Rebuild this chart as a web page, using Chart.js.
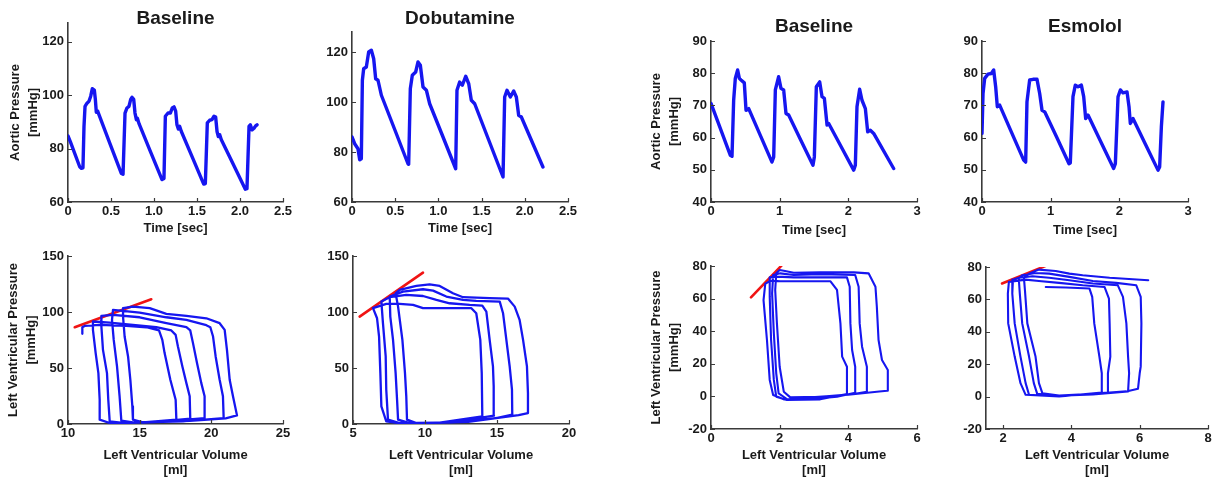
<!DOCTYPE html>
<html>
<head>
<meta charset="utf-8">
<script src="https://cdn.jsdelivr.net/npm/chart.js@4.4.1/dist/chart.umd.min.js"></script>
<style>
  html, body { margin: 0; padding: 0; background: #fff; }
  #fig { position: relative; width: 1214px; height: 481px; overflow: hidden; }
  #fig canvas { position: absolute; }
</style>
</head>
<body>
<div id="fig">
  <canvas id="p1"></canvas><canvas id="p2"></canvas><canvas id="p3"></canvas><canvas id="p4"></canvas>
  <canvas id="p5"></canvas><canvas id="p6"></canvas><canvas id="p7"></canvas><canvas id="p8"></canvas>
</div>
<script>
// ---- aortic pressure traces (time in sec, pressure in mmHg) ----
const aoTimeBase1 = [0, 0.027, 0.136, 0.155, 0.174, 0.186, 0.198, 0.221, 0.244, 0.264, 0.283, 0.306, 0.318, 0.329, 0.345, 0.36, 0.49, 0.62, 0.64,
  0.663, 0.686, 0.709, 0.729, 0.744, 0.764, 0.779, 0.795, 0.806, 0.826, 0.96, 1.093,
  1.116, 1.132, 1.163, 1.19, 1.213, 1.233, 1.252, 1.267, 1.283, 1.298, 1.318, 1.45, 1.578,
  1.597, 1.62, 1.647, 1.674, 1.698, 1.717, 1.733, 1.748, 1.764, 1.783, 1.92, 2.062,
  2.081, 2.105, 2.12, 2.14, 2.163, 2.182, 2.198];
const aoPresBase1 = [84.7, 82.6, 73.2, 72.6, 72.8, 88.3, 95.8, 97.0, 97.7, 99.6, 102.4, 101.9, 98.4, 93.6, 94.0, 92.7, 81.7, 70.7, 70.4,
  93.3, 95.2, 95.8, 98.4, 99.2, 98.4, 93.3, 90.8, 91.4, 89.3, 78.8, 68.4,
  68.8, 92.1, 93.3, 93.3, 95.2, 95.6, 94.0, 88.9, 87.3, 88.3, 86.4, 76.4, 66.7,
  66.9, 89.6, 90.6, 90.8, 92.1, 91.8, 86.4, 84.5, 85.2, 83.3, 74.2, 64.8,
  65.0, 88.3, 88.9, 87.0, 87.6, 88.5, 88.9];

const aoTimeDobu = [0, 0.031, 0.069, 0.089, 0.108, 0.120, 0.135, 0.166, 0.193, 0.224, 0.251, 0.274, 0.301, 0.340, 0.500, 0.648, 0.656,
  0.675, 0.698, 0.737, 0.764, 0.791, 0.822, 0.861, 0.899, 1.050, 1.200,
  1.215, 1.246, 1.277, 1.316, 1.351, 1.381, 1.420, 1.580, 1.748,
  1.767, 1.794, 1.833, 1.871, 1.902, 1.929, 1.960, 2.100, 2.210];
const aoPresDobu = [86.0, 83.3, 81.3, 76.9, 77.3, 108.7, 113.3, 114.0, 120.0, 120.7, 117.3, 109.3, 108.7, 102.7, 88.5, 75.3, 75.1,
  105.3, 110.7, 112.0, 116.0, 114.7, 106.0, 104.7, 99.3, 86.3, 73.3,
  104.7, 108.0, 106.7, 110.3, 107.3, 100.7, 99.3, 85.0, 70.0,
  102.0, 104.7, 102.0, 104.4, 102.0, 94.7, 94.0, 82.8, 74.0];

const aoTimeBase2 = [0, 0.282, 0.306, 0.330, 0.354, 0.388, 0.413, 0.437, 0.485, 0.510, 0.549, 0.720, 0.888,
  0.913, 0.937, 0.985, 1.019, 1.058, 1.092, 1.131, 1.310, 1.485,
  1.505, 1.534, 1.583, 1.617, 1.651, 1.690, 1.714, 1.900, 2.078,
  2.102, 2.126, 2.165, 2.199, 2.248, 2.282, 2.320, 2.369, 2.660];
const aoPresBase2 = [70.6, 54.5, 54.2, 71.6, 78.4, 81.0, 78.4, 77.9, 77.0, 68.5, 69.0, 60.6, 52.4,
  54.0, 74.8, 78.9, 75.3, 74.8, 67.5, 67.0, 59.1, 51.4,
  54.0, 75.8, 77.3, 72.7, 72.2, 63.9, 64.4, 57.0, 49.9,
  51.4, 69.6, 75.0, 71.6, 69.0, 61.8, 62.3, 61.3, 50.4];

const aoTimeEsmo = [0, 0.015, 0.039, 0.087, 0.136, 0.170, 0.199, 0.223, 0.257, 0.430, 0.607, 0.636,
  0.655, 0.694, 0.743, 0.801, 0.840, 0.874, 0.913, 1.090, 1.267, 1.286,
  1.325, 1.359, 1.398, 1.447, 1.481, 1.510, 1.544, 1.730, 1.917, 1.942,
  1.981, 2.015, 2.053, 2.112, 2.141, 2.160, 2.199, 2.380, 2.563, 2.587, 2.612, 2.636];
const aoPresEsmo = [61.3, 73.7, 78.4, 79.7, 79.9, 81.0, 75.8, 69.6, 70.1, 61.6, 53.0, 52.4,
  71.1, 77.9, 78.1, 78.1, 73.7, 68.5, 68.0, 60.0, 51.9, 52.1,
  72.7, 76.3, 75.8, 76.3, 72.7, 65.9, 67.0, 58.7, 50.4, 51.9,
  72.7, 74.8, 73.9, 74.2, 69.6, 64.4, 65.9, 57.9, 49.9, 50.9, 63.3, 71.1];

// ---- pressure-volume loops (volume in ml, pressure in mmHg) ----
const lvVolBase1 = [15.2, 18.5, 21.0,
  21.79, 21.51, 21.28, 21.09, 20.93, 20.58,
  19.65, 18.26, 16.86, 15.70, 14.53, 13.84,
  13.84, 13.95, 14.19, 14.35, 14.49, 14.53,
  15.23, 18.02, 20.86,
  20.81, 20.58, 20.30, 20.12, 19.93, 19.65,
  18.26, 16.86, 15.00, 13.14,
  13.07, 13.19, 13.42, 13.60, 13.72,
  14.53, 16.86, 19.53,
  19.53, 19.30, 19.00, 18.72, 18.53, 18.26,
  16.86, 15.00, 13.14, 12.33,
  12.33, 12.44, 12.72, 12.81, 12.91,
  13.84, 16.16, 18.53,
  18.49, 18.26, 17.98, 17.67, 17.51, 17.21,
  16.16, 14.53, 12.91, 11.74,
  11.74, 11.93, 12.12, 12.21, 12.21,
  12.91, 15.23, 17.56,
  17.51, 17.14, 16.74, 16.58, 16.35,
  15.47, 14.07, 12.21, 11.16, 11.00,
  11.00];
const lvPresBase1 = [1.2, 2.8, 5.0,
  7.7, 24.7, 39.5, 66.2, 84.0, 90.0,
  94.4, 96.5, 98.3, 103.4, 104.8, 103.4,
  95.9, 78.1, 60.3, 39.5, 15.7, 3.9,
  1.5, 2.4, 5.3,
  24.7, 39.5, 60.3, 78.1, 86.4, 88.2,
  93.0, 95.3, 99.5, 101.9,
  93.0, 75.1, 51.4, 24.7, 3.0,
  1.5, 2.4, 5.3,
  24.7, 36.5, 54.4, 72.2, 83.5, 86.4,
  90.0, 95.3, 97.4, 96.5,
  87.0, 66.2, 45.4, 21.7, 2.4,
  0.9, 1.8, 4.8,
  24.7, 36.5, 51.4, 69.2, 79.6, 83.5,
  86.4, 88.5, 90.6, 91.5,
  84.0, 63.3, 45.4, 21.7, 3.9,
  0.9, 1.5, 3.9,
  21.7, 39.5, 63.3, 75.1, 83.5,
  86.4, 87.6, 88.5, 87.6, 86.4,
  80.5];

const lvVolDobu = [9.5, 13.0, 16.5,
  17.15, 17.15, 17.08, 16.81, 16.57, 16.23, 15.76,
  14.49, 12.64, 11.94, 11.02, 10.32, 9.40, 8.24, 7.96,
  8.13, 8.43, 8.61, 8.70, 8.75,
  9.40, 12.18, 14.95, 16.06,
  16.04, 15.88, 15.65, 15.42, 15.19,
  13.56, 12.64, 11.48, 10.56, 9.86, 8.47, 7.55,
  7.59, 7.78, 7.96, 8.06, 8.13,
  8.94, 11.71, 14.79,
  14.77, 14.72, 14.49, 14.26, 13.98,
  13.10, 11.71, 10.79, 9.86, 8.70, 7.55, 6.97,
  7.08, 7.27, 7.31, 7.43,
  8.24, 11.02, 13.98,
  13.94, 13.84, 13.56, 13.22,
  10.56, 9.86, 9.17, 8.24, 7.31, 6.39,
  6.67, 6.81, 6.90, 6.97, 7.31,
  8.47, 10.56];
const lvPresDobu = [0.6, 2.0, 8.0,
  9.8, 27.6, 51.4, 75.1, 93.0, 104.8, 112.0,
  112.3, 113.2, 116.7, 123.3, 124.7, 123.3, 119.7, 116.7,
  104.8, 75.1, 45.4, 24.7, 3.9,
  0.9, 1.5, 5.3, 8.3,
  30.6, 51.4, 75.1, 98.9, 109.3,
  109.9, 110.8, 113.8, 119.1, 120.3, 118.2, 113.8,
  95.9, 75.1, 45.4, 21.7, 3.9,
  0.9, 1.2, 7.4,
  33.6, 51.4, 75.1, 100.4, 105.7,
  106.3, 107.8, 110.8, 114.3, 115.2, 113.2, 109.3,
  90.0, 60.3, 30.6, 3.9,
  0.9, 1.2, 6.8,
  45.4, 75.1, 98.9, 103.4,
  103.4, 103.4, 106.3, 107.2, 107.2, 103.4,
  94.4, 78.1, 45.4, 15.7, 2.4,
  0.3, 0.9];

const lvVolBase2 = [2.6, 4.0, 4.9,
  5.13, 5.15, 4.98, 4.88, 4.83, 4.79, 4.59,
  4.16, 3.18, 2.41, 2.12, 2.00, 1.90,
  1.87, 1.92, 2.00, 2.12, 2.31,
  3.18, 4.16, 4.54,
  4.54, 4.40, 4.33, 4.30, 4.20,
  3.18, 2.41, 2.02, 1.81,
  1.78, 1.83, 1.90, 1.97, 2.21,
  2.80, 3.67, 4.20,
  4.20, 4.11, 4.06, 4.04, 3.96,
  3.18, 2.41, 1.92, 1.71,
  1.71, 1.75, 1.83, 1.90, 2.21,
  3.18, 3.96,
  3.96, 3.82, 3.77, 3.67, 3.48,
  2.80, 2.02, 1.73, 1.58,
  1.53, 1.63, 1.71, 1.81, 2.12,
  3.18];
const lvPresBase2 = [-1.0, 1.0, 3.0,
  3.5, 16.2, 22.3, 34.6, 55.1, 67.3, 75.5,
  76.1, 76.1, 75.9, 77.1, 77.5, 75.5,
  65.3, 44.8, 18.2, 2.9, -0.6,
  -0.2, 1.5, 2.9,
  18.2, 30.5, 44.8, 67.3, 74.5,
  74.9, 74.5, 75.5, 74.5,
  63.2, 38.7, 14.2, 1.9, -1.6,
  -1.8, -0.2, 2.3,
  18.2, 28.5, 44.8, 67.3, 73.0,
  73.0, 73.0, 73.5, 73.0,
  61.2, 34.6, 10.1, -0.2, -2.2,
  -1.8, 1.5,
  18.2, 24.4, 44.8, 65.3, 70.6,
  70.6, 70.6, 71.0, 69.0,
  59.1, 34.6, 10.1, 0.9, -1.8,
  -1.4];

const lvVolEsmo = [6.25, 5.12, 4.33, 3.94, 3.54, 3.05, 2.76, 2.61,
  2.64, 2.71, 2.95, 3.05, 3.15,
  3.64, 4.63, 5.61, 5.95,
  6.00, 6.03, 6.05, 6.03, 5.90,
  5.31, 4.63, 3.94, 3.35, 2.95, 2.56, 2.46,
  2.49, 2.56, 2.76, 2.90, 3.00,
  3.64, 4.63, 5.66,
  5.69, 5.66, 5.61, 5.51, 5.36,
  4.63, 3.94, 3.35, 2.86, 2.46, 2.29,
  2.27, 2.34, 2.51, 2.66, 2.76,
  3.64, 5.07,
  5.07, 5.14, 5.12, 5.10, 4.97,
  4.33, 3.64, 3.05, 2.66, 2.17,
  2.14, 2.15, 2.34, 2.51, 2.66,
  3.64, 4.89,
  4.89, 4.82, 4.67, 4.61, 4.53,
  3.84, 3.25];
const lvPresEsmo = [71.8, 73.4, 74.9, 75.9, 77.5, 78.4, 75.9, 73.4,
  65.7, 45.2, 24.7, 8.3, 2.1,
  0.7, 1.7, 3.2, 4.8,
  14.4, 18.5, 45.2, 61.6, 68.7,
  70.2, 71.4, 73.9, 75.9, 76.3, 74.9, 72.8,
  63.6, 45.2, 24.7, 8.3, 1.7,
  0.5, 1.3, 3.2,
  14.4, 24.7, 45.2, 61.6, 68.7,
  69.8, 71.8, 73.4, 74.3, 73.4, 72.2,
  63.6, 45.2, 24.7, 8.3, 1.1,
  0.1, 2.5,
  14.4, 24.7, 45.2, 60.5, 67.7,
  68.7, 70.2, 71.4, 72.2, 70.8,
  63.6, 45.2, 24.7, 8.3, 1.1,
  0.1, 2.5,
  14.4, 24.7, 45.2, 61.6, 66.7,
  67.3, 67.7];

// end-systolic pressure-volume relation (red lines)
const esVolBase1 = [10.47, 15.81], esPresBase1 = [86.4, 111.4];
const esVolDobu = [5.46, 9.86],    esPresDobu = [95.9, 135.1];
const esVolBase2 = [1.165, 2.165], esPresBase2 = [60.8, 82.7];
const esVolEsmo = [1.97, 3.81],    esPresEsmo = [69.8, 85.5];

// ---- ticks ----
const timeTicksA = [0, 0.5, 1, 1.5, 2, 2.5];
const timeTicksB = [0, 1, 2, 3];
const aoTicksA = [60, 80, 100, 120];
const aoTicksB = [40, 50, 60, 70, 80, 90];
const volTicksBase1 = [10, 15, 20, 25];
const volTicksDobu = [5, 10, 15, 20];
const volTicksBase2 = [0, 2, 4, 6];
const volTicksEsmo = [2, 4, 6, 8];
const lvTicksA = [0, 50, 100, 150];
const lvTicksB = [-20, 0, 20, 40, 60, 80];

// ---- styling ----
const FONT = '"Liberation Sans", Arial, Helvetica, sans-serif';
const INK = '#1a1a1a';
const AXIS = '#3a3a3a';
const BLUE = 'rgb(22, 22, 240)';
const RED = 'rgb(240, 20, 20)';

const panelTitle = {
  id: 'panelTitle',
  afterDraw(chart, args, opts) {
    if (!opts.text) return;
    const {ctx, chartArea: a} = chart;
    ctx.save();
    ctx.font = 'bold 19px ' + FONT;
    ctx.fillStyle = INK;
    ctx.textAlign = 'center';
    ctx.textBaseline = 'alphabetic';
    ctx.fillText(opts.text, (a.left + a.right) / 2, opts.baseline);
    ctx.restore();
  }
};

// MATLAB style: short ticks pointing into the plot
const innerTicks = {
  id: 'innerTicks',
  afterDraw(chart) {
    const {ctx, chartArea: a, scales: {x, y}} = chart;
    ctx.save();
    ctx.strokeStyle = AXIS;
    ctx.lineWidth = 1.2;
    ctx.beginPath();
    x.ticks.forEach(t => {
      const px = Math.round(x.getPixelForValue(t.value)) + 0.5;
      ctx.moveTo(px, a.bottom); ctx.lineTo(px, a.bottom - 4);
    });
    y.ticks.forEach(t => {
      const py = Math.round(y.getPixelForValue(t.value)) + 0.5;
      ctx.moveTo(a.left, py); ctx.lineTo(a.left + 4, py);
    });
    ctx.stroke();
    ctx.restore();
  }
};

function trace(xs, ys, color, width) {
  return {
    data: xs.map((v, i) => ({x: v, y: ys[i]})),
    borderColor: color,
    borderWidth: width,
    borderJoinStyle: 'round',
    borderCapStyle: 'round',
    showLine: true,
    pointRadius: 0,
    fill: false
  };
}

function makePanel(id, box, p) {
  const cv = document.getElementById(id);
  cv.width = box.w; cv.height = box.h;
  cv.style.left = box.left + 'px'; cv.style.top = box.top + 'px';

  const xTitle = {display: true, text: p.xTitle.length > 1 ? p.xTitle : p.xTitle[0], color: INK,
    font: {family: FONT, size: 13, weight: 'bold', lineHeight: 1.15}, padding: {top: 0, bottom: p.xTitlePad}};
  const yTitle = p.yTitle
    ? {display: true, text: p.yTitle, color: INK, font: {family: FONT, size: 13, weight: 'bold', lineHeight: 1.4}, padding: {top: p.yTitlePad, bottom: 0}}
    : {display: false};

  return new Chart(cv, {
    type: 'scatter',
    data: {datasets: p.sets},
    options: {
      responsive: false,
      animation: false,
      events: [],
      layout: {padding: {left: 0, top: box.insetTop, right: box.insetRight, bottom: 0}},
      plugins: {
        legend: {display: false},
        tooltip: {enabled: false},
        panelTitle: {text: p.title, baseline: p.titleBaseline}
      },
      scales: {
        x: {
          type: 'linear', min: p.xMin, max: p.xMax,
          afterBuildTicks: s => { s.ticks = p.xTicks.map(v => ({value: v})); },
          afterFit: s => { s.height = box.xAxisH; s.paddingLeft = 0; s.paddingRight = 0; },
          grid: {display: false, drawTicks: false},
          border: {display: true, color: AXIS, width: 1.6},
          ticks: {color: INK, font: {family: FONT, size: 13, weight: 'bold'}, padding: 2, maxRotation: 0, autoSkip: false},
          title: xTitle
        },
        y: {
          type: 'linear', min: p.yMin, max: p.yMax,
          afterBuildTicks: s => { s.ticks = p.yTicks.map(v => ({value: v})); },
          afterFit: s => { s.width = box.yAxisW; s.paddingTop = 0; s.paddingBottom = 0; },
          grid: {display: false, drawTicks: false},
          border: {display: true, color: AXIS, width: 1.6},
          ticks: {color: INK, font: {family: FONT, size: 13, weight: 'bold'}, padding: 4, autoSkip: false},
          title: yTitle
        }
      }
    },
    plugins: [panelTitle, innerTicks]
  });
}

const timeLabel = ['Time [sec]'];
const volLabel = ['Left Ventricular Volume', '[ml]'];
const aoLabel = ['Aortic Pressure', '[mmHg]'];
const lvLabel = ['Left Ventricular Pressure', '[mmHg]'];

// top row: aortic pressure
makePanel('p1', {left: 0, top: 0, w: 298, h: 240, yAxisW: 68, insetTop: 23, insetRight: 15, xAxisH: 38}, {
  title: 'Baseline', titleBaseline: 24,
  xMin: 0, xMax: 2.5, xTicks: timeTicksA, yMin: 60, yMax: 127, yTicks: aoTicksA,
  xTitle: timeLabel, xTitlePad: 4, yTitle: aoLabel, yTitlePad: 6,
  sets: [trace(aoTimeBase1, aoPresBase1, BLUE, 3.4)]
});
makePanel('p2', {left: 298, top: 0, w: 285, h: 240, yAxisW: 54, insetTop: 32, insetRight: 15, xAxisH: 38}, {
  title: 'Dobutamine', titleBaseline: 24,
  xMin: 0, xMax: 2.5, xTicks: timeTicksA, yMin: 60, yMax: 128, yTicks: aoTicksA,
  xTitle: timeLabel, xTitlePad: 4, yTitle: null,
  sets: [trace(aoTimeDobu, aoPresDobu, BLUE, 3.4)]
});
makePanel('p3', {left: 640, top: 0, w: 292, h: 240, yAxisW: 71, insetTop: 41, insetRight: 15, xAxisH: 38}, {
  title: 'Baseline', titleBaseline: 32,
  xMin: 0, xMax: 3, xTicks: timeTicksB, yMin: 40, yMax: 90, yTicks: aoTicksB,
  xTitle: timeLabel, xTitlePad: 2.5, yTitle: aoLabel, yTitlePad: 7.5,
  sets: [trace(aoTimeBase2, aoPresBase2, BLUE, 3.4)]
});
makePanel('p4', {left: 932, top: 0, w: 276, h: 240, yAxisW: 50, insetTop: 41, insetRight: 20, xAxisH: 38}, {
  title: 'Esmolol', titleBaseline: 32,
  xMin: 0, xMax: 3, xTicks: timeTicksB, yMin: 40, yMax: 90, yTicks: aoTicksB,
  xTitle: timeLabel, xTitlePad: 2.5, yTitle: null,
  sets: [trace(aoTimeEsmo, aoPresEsmo, BLUE, 3.4)]
});

// bottom row: pressure-volume loops
makePanel('p5', {left: 0, top: 240, w: 298, h: 241, yAxisW: 68, insetTop: 16, insetRight: 15, xAxisH: 57}, {
  title: '', xMin: 10, xMax: 25, xTicks: volTicksBase1, yMin: 0, yMax: 150, yTicks: lvTicksA,
  xTitle: volLabel, xTitlePad: 3.5, yTitle: lvLabel, yTitlePad: 4.5,
  sets: [trace(lvVolBase1, lvPresBase1, BLUE, 2.3), trace(esVolBase1, esPresBase1, RED, 2.6)]
});
makePanel('p6', {left: 298, top: 240, w: 286, h: 241, yAxisW: 55, insetTop: 16, insetRight: 15, xAxisH: 57}, {
  title: '', xMin: 5, xMax: 20, xTicks: volTicksDobu, yMin: 0, yMax: 150, yTicks: lvTicksA,
  xTitle: volLabel, xTitlePad: 3.5, yTitle: null,
  sets: [trace(lvVolDobu, lvPresDobu, BLUE, 2.3), trace(esVolDobu, esPresDobu, RED, 2.6)]
});
makePanel('p7', {left: 640, top: 240, w: 292, h: 241, yAxisW: 71, insetTop: 26, insetRight: 15, xAxisH: 52}, {
  title: '', xMin: 0, xMax: 6, xTicks: volTicksBase2, yMin: -20, yMax: 80, yTicks: lvTicksB,
  xTitle: volLabel, xTitlePad: 3.5, yTitle: lvLabel, yTitlePad: 7.5,
  sets: [trace(lvVolBase2, lvPresBase2, BLUE, 2.1), trace(esVolBase2, esPresBase2, RED, 2.6)]
});
makePanel('p8', {left: 932, top: 240, w: 282, h: 241, yAxisW: 54, insetTop: 27, insetRight: 6, xAxisH: 52}, {
  title: '', xMin: 1.5, xMax: 8, xTicks: volTicksEsmo, yMin: -20, yMax: 80, yTicks: lvTicksB,
  xTitle: volLabel, xTitlePad: 3.5, yTitle: null,
  sets: [trace(lvVolEsmo, lvPresEsmo, BLUE, 2.1), trace(esVolEsmo, esPresEsmo, RED, 2.6)]
});
</script>
</body>
</html>
